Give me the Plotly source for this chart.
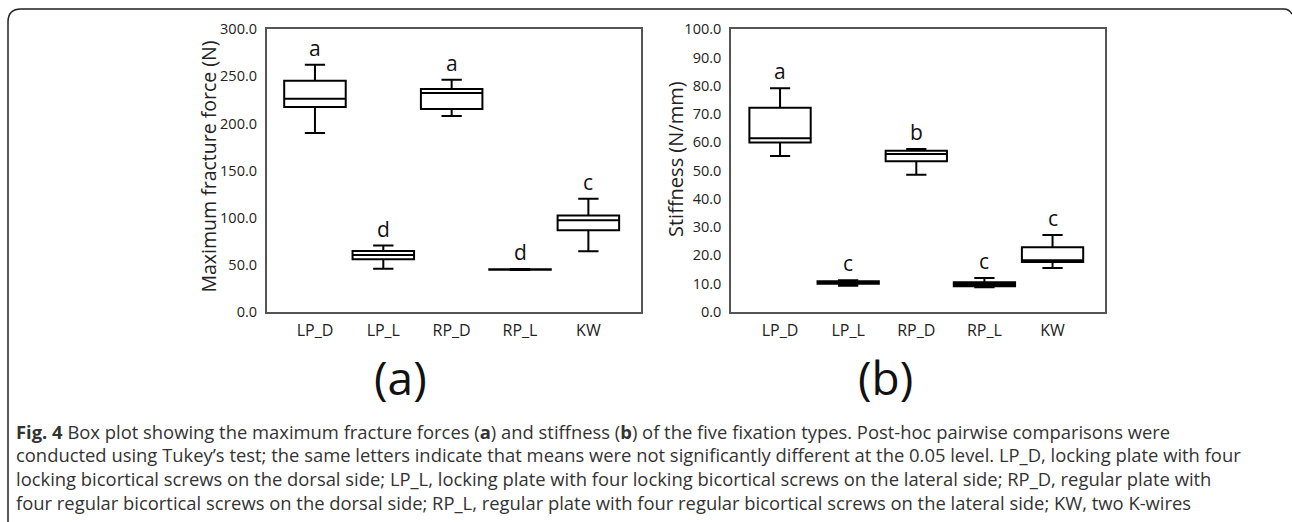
import plotly.graph_objects as go

W, H = 1292, 522

categories = ["LP_D", "LP_L", "RP_D", "RP_L", "KW"]

# (a) Maximum fracture force (N)
force_low = [189.8, 45.7, 207.9, 44.2, 64.3]
force_q1 = [217.4, 55.7, 215.3, 44.5, 86.6]
force_med = [226.3, 60.3, 232.3, 44.8, 97.2]
force_q3 = [245.4, 64.6, 236.6, 45.1, 102.1]
force_high = [262.4, 70.2, 246.5, 45.4, 119.9]
force_letters = ["a", "d", "a", "d", "c"]

# (b) Stiffness (N/mm)
stiff_low = [55.1, 9.2, 48.5, 8.7, 15.5]
stiff_q1 = [59.9, 9.9, 53.3, 9.0, 17.6]
stiff_med = [61.4, 10.3, 55.8, 9.7, 18.2]
stiff_q3 = [72.2, 10.8, 57.0, 10.4, 22.8]
stiff_high = [79.1, 11.1, 57.6, 11.9, 27.2]
stiff_letters = ["a", "c", "b", "c", "c"]

y_ticks_force = [0, 50, 100, 150, 200, 250, 300]
y_ticks_stiff = [0, 10, 20, 30, 40, 50, 60, 70, 80, 90, 100]

caption_lines = [
    "<b>Fig. 4</b> Box plot showing the maximum fracture forces (<b>a</b>) and stiffness (<b>b</b>) of the five fixation types. Post-hoc pairwise comparisons were",
    "conducted using Tukey\u2019s test; the same letters indicate that means were not significantly different at the 0.05 level. LP_D, locking plate with four",
    "locking bicortical screws on the dorsal side; LP_L, locking plate with four locking bicortical screws on the lateral side; RP_D, regular plate with",
    "four regular bicortical screws on the dorsal side; RP_L, regular plate with four regular bicortical screws on the lateral side; KW, two K-wires",
]

FONT = "Open Sans"
TXT = "#222222"


def px(x):
    return x / W


def py(y):
    return 1 - y / H


fig = go.Figure()

box_style = dict(
    line=dict(color="black", width=2),
    fillcolor="white",
    whiskerwidth=0.33,
    width=0.9,
    boxpoints=False,
    showlegend=False,
    hoverinfo="skip",
)

fig.add_trace(go.Box(
    x=categories, q1=force_q1, median=force_med, q3=force_q3,
    lowerfence=force_low, upperfence=force_high,
    xaxis="x", yaxis="y", **box_style))
fig.add_trace(go.Box(
    x=categories, q1=stiff_q1, median=stiff_med, q3=stiff_q3,
    lowerfence=stiff_low, upperfence=stiff_high,
    xaxis="x2", yaxis="y2", **box_style))

annotations = []
for c, hi, t in zip(categories, force_high, force_letters):
    annotations.append(dict(x=c, y=hi, xref="x", yref="y", text=t, showarrow=False,
                            xanchor="center", yanchor="middle", yshift=17,
                            font=dict(family=FONT, size=21, color="#111")))
for c, hi, t in zip(categories, stiff_high, stiff_letters):
    annotations.append(dict(x=c, y=hi, xref="x2", yref="y2", text=t, showarrow=False,
                            xanchor="center", yanchor="middle", yshift=17,
                            font=dict(family=FONT, size=21, color="#111")))

# axis titles
annotations.append(dict(x=px(208), y=py(166.5), xref="paper", yref="paper",
                        xanchor="center", yanchor="middle",
                        text="Maximum fracture force (N)", textangle=-90, showarrow=False,
                        font=dict(family=FONT, size=19.5, color=TXT)))
annotations.append(dict(x=px(675), y=py(159), xref="paper", yref="paper",
                        xanchor="center", yanchor="middle",
                        text="Stiffness (N/mm)", textangle=-90, showarrow=False,
                        font=dict(family=FONT, size=20, color=TXT)))

# panel labels
annotations.append(dict(x=px(401), y=py(377), xref="paper", yref="paper",
                        xanchor="center", yanchor="middle",
                        text="(a)", showarrow=False,
                        font=dict(family=FONT, size=46, color="#111")))
annotations.append(dict(x=px(885), y=py(377), xref="paper", yref="paper",
                        xanchor="center", yanchor="middle",
                        text="(b)", showarrow=False,
                        font=dict(family=FONT, size=46, color="#111")))

# caption
for i, line in enumerate(caption_lines):
    annotations.append(dict(x=px(14), y=py(431 + i * 23.7), xref="paper", yref="paper",
                            text=line, showarrow=False, xanchor="left", yanchor="middle",
                            font=dict(family=FONT, size=18.4, color="#333")))

axis_common = dict(
    showline=True, mirror=True, linecolor="#555", linewidth=1.5,
    showgrid=False, zeroline=False, ticks="",
    tickfont=dict(family=FONT, size=14.5, color=TXT),
)

# rounded outer frame
frame = (f"M {px(8)},{py(530)} L {px(8)},{py(22)} "
         f"Q {px(8)},{py(9)} {px(21)},{py(9)} "
         f"L {px(1284)},{py(9)} Q {px(1289)},{py(9)} {px(1292)},{py(14)}")

fig.update_layout(
    width=W, height=H,
    margin=dict(l=0, r=0, t=0, b=0, pad=0, autoexpand=False),
    paper_bgcolor="white", plot_bgcolor="white",
    xaxis=dict(domain=[px(266.7), px(641)], type="category",
               categoryarray=categories, range=[-0.706, 4.77],
               ticklabelstandoff=3, **axis_common),
    yaxis=dict(domain=[py(311.7), py(29.3)], range=[0, 300],
               tickvals=y_ticks_force, tickformat=".1f", ticklabelstandoff=5, **axis_common),
    xaxis2=dict(domain=[px(731), px(1105)], type="category",
                categoryarray=categories, range=[-0.72, 4.77], anchor="y2",
                ticklabelstandoff=3, **axis_common),
    yaxis2=dict(domain=[py(311.7), py(29.3)], range=[0, 100], anchor="x2",
                tickvals=y_ticks_stiff, tickformat=".1f", ticklabelstandoff=5, **axis_common),
    annotations=annotations,
    shapes=[dict(type="path", path=frame, xref="paper", yref="paper",
                 line=dict(color="#222", width=1.5))],
)
fig.update_xaxes(tickfont=dict(family=FONT, size=16, color=TXT))

fig.write_html("out.html", config={"displayModeBar": False},
               post_script="document.body.style.margin='0';document.body.style.overflow='hidden';")
